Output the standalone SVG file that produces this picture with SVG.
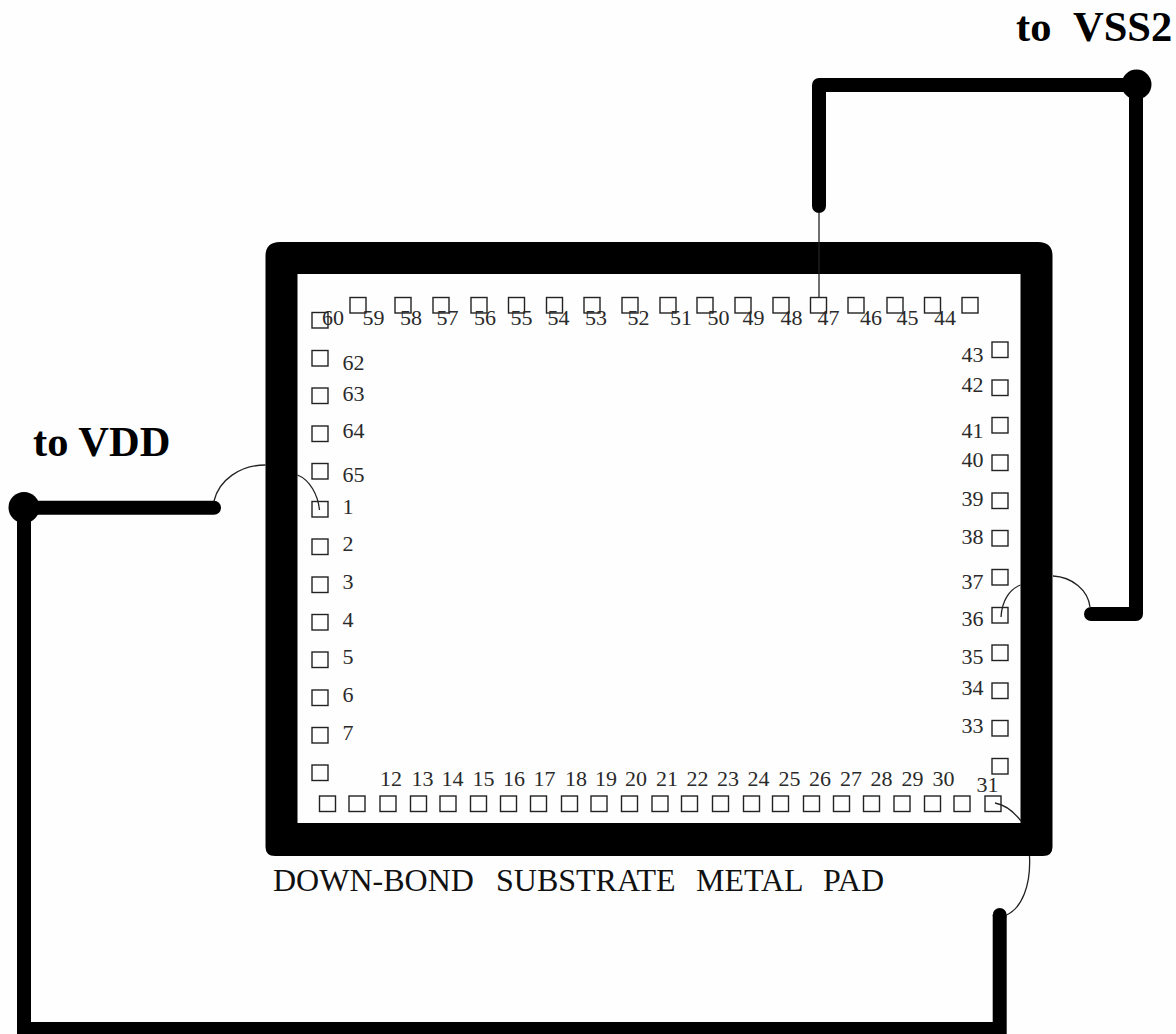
<svg xmlns="http://www.w3.org/2000/svg" width="1176" height="1034" viewBox="0 0 1176 1034">
<style>
.pad{fill:none;stroke:#222;stroke-width:1.4}
.n{font-family:"Liberation Serif","Times New Roman",serif;font-size:22px;fill:#2a2a2a}
.cap{font-family:"Liberation Serif","Times New Roman",serif;font-size:32px;fill:#111}
.t{font-family:"Liberation Serif","Times New Roman",serif;font-size:42.500px;font-weight:bold;fill:#000}
.thick{fill:none;stroke:#000;stroke-width:14;stroke-linecap:round;stroke-linejoin:round}
.thin{fill:none;stroke:#222;stroke-width:1.3}
</style>
<defs><rect id="p" class="pad" width="16" height="15.5"/></defs>
<rect width="1176" height="1034" fill="#fefefe"/>
<g id="substrate-pad">
<path fill="#000" fill-rule="evenodd" d="M280 242H1038Q1052.500 242 1052.500 256V847Q1052.500 856 1043 856H275Q265.500 856 265.500 847V256Q265.500 242 280 242ZM297.500 274V823H1020.500V274Z"/>
</g>
<g id="connectors">
<path class="thick" d="M819 206V85H1136V614H1091"/>
<circle cx="1136.500" cy="84.500" r="15"/>
<path class="thick" d="M214 507.700H24"/>
<path fill="none" stroke="#000" stroke-width="14" d="M24 507.700V1029H999.700V915"/>
<circle cx="999.700" cy="915" r="7"/>
<circle cx="24" cy="507.500" r="15.500"/>
<path class="thin" d="M819 212V297"/>
<path class="thin" d="M214 501C219 480 240 465 265.500 465"/>
<path class="thin" d="M297.500 475C310 480 318 495 319.500 510"/>
<path class="thin" d="M1020.500 585C1010 589 1002 600 1001 617"/>
<path class="thin" d="M1053 576C1072 577 1088 590 1090 607"/>
<path class="thin" d="M995 803C1006 805 1014 812 1021 821"/>
<path class="thin" d="M1029.500 856C1031 885 1022 908 1006.500 915"/>
</g>
<g id="pad-60"><use href="#p" x="312" y="312.500"/><text class="n" x="322" y="325">60</text></g>
<g id="pad-59"><use href="#p" x="350" y="297.500"/><text class="n" x="362.500" y="325">59</text></g>
<g id="pad-58"><use href="#p" x="395" y="297.500"/><text class="n" x="400" y="325">58</text></g>
<g id="pad-57"><use href="#p" x="433" y="297.500"/><text class="n" x="436.500" y="325">57</text></g>
<g id="pad-56"><use href="#p" x="471" y="297.500"/><text class="n" x="474" y="325">56</text></g>
<g id="pad-55"><use href="#p" x="508.500" y="297.500"/><text class="n" x="510.500" y="325">55</text></g>
<g id="pad-54"><use href="#p" x="546.500" y="297.500"/><text class="n" x="547.500" y="325">54</text></g>
<g id="pad-53"><use href="#p" x="584" y="297.500"/><text class="n" x="585" y="325">53</text></g>
<g id="pad-52"><use href="#p" x="622" y="297.500"/><text class="n" x="627.500" y="325">52</text></g>
<g id="pad-51"><use href="#p" x="660" y="297.500"/><text class="n" x="670" y="325">51</text></g>
<g id="pad-50"><use href="#p" x="697" y="297.500"/><text class="n" x="707.500" y="325">50</text></g>
<g id="pad-49"><use href="#p" x="735" y="297.500"/><text class="n" x="742.500" y="325">49</text></g>
<g id="pad-48"><use href="#p" x="773" y="297.500"/><text class="n" x="780.500" y="325">48</text></g>
<g id="pad-47"><use href="#p" x="810.500" y="297.500"/><text class="n" x="817.500" y="325">47</text></g>
<g id="pad-46"><use href="#p" x="848" y="297.500"/><text class="n" x="860" y="325">46</text></g>
<g id="pad-45"><use href="#p" x="887" y="297.500"/><text class="n" x="896.500" y="325">45</text></g>
<g id="pad-44"><use href="#p" x="924.500" y="297.500"/><text class="n" x="934" y="325">44</text></g>
<g id="pad-top-corner"><use href="#p" x="962" y="297.500"/></g>
<g id="pad-62"><use href="#p" x="312" y="350.500"/><text class="n" x="342.500" y="369.500">62</text></g>
<g id="pad-63"><use href="#p" x="312" y="388"/><text class="n" x="342.500" y="400.500">63</text></g>
<g id="pad-64"><use href="#p" x="312" y="426"/><text class="n" x="342.500" y="438">64</text></g>
<g id="pad-65"><use href="#p" x="312" y="463.500"/><text class="n" x="342.500" y="481.500">65</text></g>
<g id="pad-1"><use href="#p" x="312" y="501.500"/><text class="n" x="342.500" y="513.500">1</text></g>
<g id="pad-2"><use href="#p" x="312" y="539"/><text class="n" x="342.500" y="551">2</text></g>
<g id="pad-3"><use href="#p" x="312" y="577"/><text class="n" x="342.500" y="589">3</text></g>
<g id="pad-4"><use href="#p" x="312" y="614.500"/><text class="n" x="342.500" y="626.500">4</text></g>
<g id="pad-5"><use href="#p" x="312" y="652"/><text class="n" x="342.500" y="664">5</text></g>
<g id="pad-6"><use href="#p" x="312" y="690"/><text class="n" x="342.500" y="701.500">6</text></g>
<g id="pad-7"><use href="#p" x="312" y="727.500"/><text class="n" x="342.500" y="739.500">7</text></g>
<g id="pad-left-corner"><use href="#p" x="312" y="765"/></g>
<g id="pad-43"><use href="#p" x="992" y="342"/><text class="n" x="961.500" y="361.500">43</text></g>
<g id="pad-42"><use href="#p" x="992" y="380"/><text class="n" x="961.500" y="391.500">42</text></g>
<g id="pad-41"><use href="#p" x="992" y="417.500"/><text class="n" x="961.500" y="437.500">41</text></g>
<g id="pad-40"><use href="#p" x="992" y="455"/><text class="n" x="961.500" y="466.500">40</text></g>
<g id="pad-39"><use href="#p" x="992" y="493"/><text class="n" x="961.500" y="506">39</text></g>
<g id="pad-38"><use href="#p" x="992" y="530.500"/><text class="n" x="961.500" y="544">38</text></g>
<g id="pad-37"><use href="#p" x="992" y="569.500"/><text class="n" x="961.500" y="588.500">37</text></g>
<g id="pad-36"><use href="#p" x="992" y="607.500"/><text class="n" x="961.500" y="626">36</text></g>
<g id="pad-35"><use href="#p" x="992" y="645"/><text class="n" x="961.500" y="664">35</text></g>
<g id="pad-34"><use href="#p" x="992" y="683"/><text class="n" x="961.500" y="695">34</text></g>
<g id="pad-33"><use href="#p" x="992" y="720.500"/><text class="n" x="961.500" y="732.500">33</text></g>
<g id="pad-right-corner"><use href="#p" x="992" y="758.500"/></g>
<g id="pad-b1"><use href="#p" x="319.500" y="796"/></g>
<g id="pad-b2"><use href="#p" x="349" y="796"/></g>
<g id="pad-12"><use href="#p" x="380" y="796"/><text class="n" x="380" y="785.500">12</text></g>
<g id="pad-13"><use href="#p" x="410.500" y="796"/><text class="n" x="411.500" y="785.500">13</text></g>
<g id="pad-14"><use href="#p" x="440" y="796"/><text class="n" x="441.500" y="785.500">14</text></g>
<g id="pad-15"><use href="#p" x="470.500" y="796"/><text class="n" x="472.500" y="785.500">15</text></g>
<g id="pad-16"><use href="#p" x="500.500" y="796"/><text class="n" x="503" y="785.500">16</text></g>
<g id="pad-17"><use href="#p" x="530.500" y="796"/><text class="n" x="533.500" y="785.500">17</text></g>
<g id="pad-18"><use href="#p" x="561.500" y="796"/><text class="n" x="565" y="785.500">18</text></g>
<g id="pad-19"><use href="#p" x="591" y="796"/><text class="n" x="595" y="785.500">19</text></g>
<g id="pad-20"><use href="#p" x="621.500" y="796"/><text class="n" x="625" y="785.500">20</text></g>
<g id="pad-21"><use href="#p" x="652" y="796"/><text class="n" x="656" y="785.500">21</text></g>
<g id="pad-22"><use href="#p" x="681.500" y="796"/><text class="n" x="686.500" y="785.500">22</text></g>
<g id="pad-23"><use href="#p" x="712.500" y="796"/><text class="n" x="717" y="785.500">23</text></g>
<g id="pad-24"><use href="#p" x="743.500" y="796"/><text class="n" x="747.500" y="785.500">24</text></g>
<g id="pad-25"><use href="#p" x="772.500" y="796"/><text class="n" x="778.500" y="785.500">25</text></g>
<g id="pad-26"><use href="#p" x="803.500" y="796"/><text class="n" x="809" y="785.500">26</text></g>
<g id="pad-27"><use href="#p" x="833.500" y="796"/><text class="n" x="840" y="785.500">27</text></g>
<g id="pad-28"><use href="#p" x="863.500" y="796"/><text class="n" x="870.500" y="785.500">28</text></g>
<g id="pad-29"><use href="#p" x="894" y="796"/><text class="n" x="901.500" y="785.500">29</text></g>
<g id="pad-30"><use href="#p" x="924.500" y="796"/><text class="n" x="932.500" y="785.500">30</text></g>
<g id="pad-b-extra"><use href="#p" x="954" y="796"/></g>
<g id="pad-31"><use href="#p" x="985" y="796"/><text class="n" x="976.500" y="792">31</text></g>
<g id="labels">
<text class="cap" y="891"><tspan x="273">DOWN-BOND </tspan><tspan x="496">SUBSTRATE </tspan><tspan x="696">METAL </tspan><tspan x="823">PAD</tspan></text>
<text class="t" y="456" x="33">to VDD</text>
<text class="t" y="41"><tspan x="1016">to </tspan><tspan x="1073">VSS2</tspan></text>
</g>
</svg>
